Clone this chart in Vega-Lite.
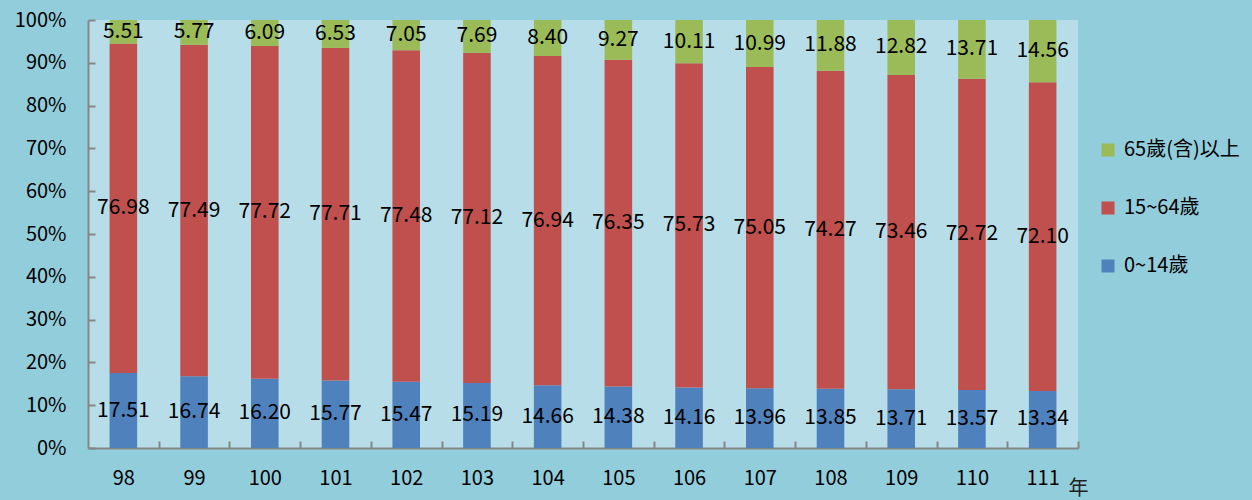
{
  "$schema": "https://vega.github.io/schema/vega-lite/v6.json",
  "width": 990,
  "height": 428,
  "autosize": "none",
  "padding": {"left": 88, "top": 20, "right": 174, "bottom": 52},
  "background": "#92CDDC",
  "config": {"view": {"fill": "#B7DEE8", "stroke": null}, "font": "Noto Sans CJK TC"},
  "data": {"values": [
    {"year": 98, "group": "0~14歲", "value": 17.51}, {"year": 98, "group": "15~64歲", "value": 76.98}, {"year": 98, "group": "65歲(含)以上", "value": 5.51},
    {"year": 99, "group": "0~14歲", "value": 16.74}, {"year": 99, "group": "15~64歲", "value": 77.49}, {"year": 99, "group": "65歲(含)以上", "value": 5.77},
    {"year": 100, "group": "0~14歲", "value": 16.20}, {"year": 100, "group": "15~64歲", "value": 77.72}, {"year": 100, "group": "65歲(含)以上", "value": 6.09},
    {"year": 101, "group": "0~14歲", "value": 15.77}, {"year": 101, "group": "15~64歲", "value": 77.71}, {"year": 101, "group": "65歲(含)以上", "value": 6.53},
    {"year": 102, "group": "0~14歲", "value": 15.47}, {"year": 102, "group": "15~64歲", "value": 77.48}, {"year": 102, "group": "65歲(含)以上", "value": 7.05},
    {"year": 103, "group": "0~14歲", "value": 15.19}, {"year": 103, "group": "15~64歲", "value": 77.12}, {"year": 103, "group": "65歲(含)以上", "value": 7.69},
    {"year": 104, "group": "0~14歲", "value": 14.66}, {"year": 104, "group": "15~64歲", "value": 76.94}, {"year": 104, "group": "65歲(含)以上", "value": 8.40},
    {"year": 105, "group": "0~14歲", "value": 14.38}, {"year": 105, "group": "15~64歲", "value": 76.35}, {"year": 105, "group": "65歲(含)以上", "value": 9.27},
    {"year": 106, "group": "0~14歲", "value": 14.16}, {"year": 106, "group": "15~64歲", "value": 75.73}, {"year": 106, "group": "65歲(含)以上", "value": 10.11},
    {"year": 107, "group": "0~14歲", "value": 13.96}, {"year": 107, "group": "15~64歲", "value": 75.05}, {"year": 107, "group": "65歲(含)以上", "value": 10.99},
    {"year": 108, "group": "0~14歲", "value": 13.85}, {"year": 108, "group": "15~64歲", "value": 74.27}, {"year": 108, "group": "65歲(含)以上", "value": 11.88},
    {"year": 109, "group": "0~14歲", "value": 13.71}, {"year": 109, "group": "15~64歲", "value": 73.46}, {"year": 109, "group": "65歲(含)以上", "value": 12.82},
    {"year": 110, "group": "0~14歲", "value": 13.57}, {"year": 110, "group": "15~64歲", "value": 72.72}, {"year": 110, "group": "65歲(含)以上", "value": 13.71},
    {"year": 111, "group": "0~14歲", "value": 13.34}, {"year": 111, "group": "15~64歲", "value": 72.10}, {"year": 111, "group": "65歲(含)以上", "value": 14.56}
  ]},
  "transform": [
    {"stack": "value", "groupby": ["year"], "sort": [{"field": "group", "order": "ascending"}], "offset": "normalize", "as": ["y0", "y1"]},
    {"calculate": "(datum.y0 + datum.y1) / 2", "as": "ymid"}
  ],
  "encoding": {
    "x": {
      "field": "year", "type": "ordinal",
      "scale": {"paddingInner": 0.61, "paddingOuter": 0.305},
      "axis": {
        "labelAngle": 0, "tickOffset": 35.36, "labelOffset": -35.36, "tickSize": -7, "tickWidth": 2, "tickColor": "#868686",
        "domainColor": "#868686", "domainWidth": 2, "labelPadding": 27, "labelFontSize": 20, "labelColor": "#000",
        "title": "年", "titleAnchor": "end", "titleX": 990, "titleY": 40, "titleAlign": "center", "titleBaseline": "middle",
        "titleFontSize": 20, "titleFontWeight": "normal", "titleColor": "#222"
      }
    }
  },
  "layer": [
    {
      "mark": {"type": "bar"},
      "encoding": {
        "y": {
          "field": "y0", "type": "quantitative", "scale": {"domain": [0, 1]},
          "axis": {
            "values": [0, 0.1, 0.2, 0.3, 0.4, 0.5, 0.6, 0.7, 0.8, 0.9, 1], "format": ".0%", "grid": false, "title": null,
            "tickSize": -7, "tickWidth": 2, "tickColor": "#868686", "domainColor": "#868686", "domainWidth": 2,
            "labelPadding": 29, "labelFontSize": 20, "labelColor": "#000"
          }
        },
        "y2": {"field": "y1"},
        "color": {
          "field": "group", "type": "nominal",
          "scale": {"domain": ["65歲(含)以上", "15~64歲", "0~14歲"], "range": ["#9BBB59", "#C0504D", "#4F81BD"]},
          "legend": {
            "orient": "none", "legendX": 1010, "legendY": 120, "title": null, "symbolType": "square", "symbolSize": 169,
            "symbolStrokeWidth": 0, "labelFontSize": 20, "labelColor": "#000", "rowPadding": 38, "labelOffset": 6
          }
        }
      }
    },
    {
      "mark": {"type": "text", "fontSize": 21, "color": "#000", "baseline": "middle"},
      "encoding": {
        "y": {"field": "ymid", "type": "quantitative"},
        "text": {"field": "value", "type": "quantitative", "format": ".2f"}
      }
    }
  ]
}
